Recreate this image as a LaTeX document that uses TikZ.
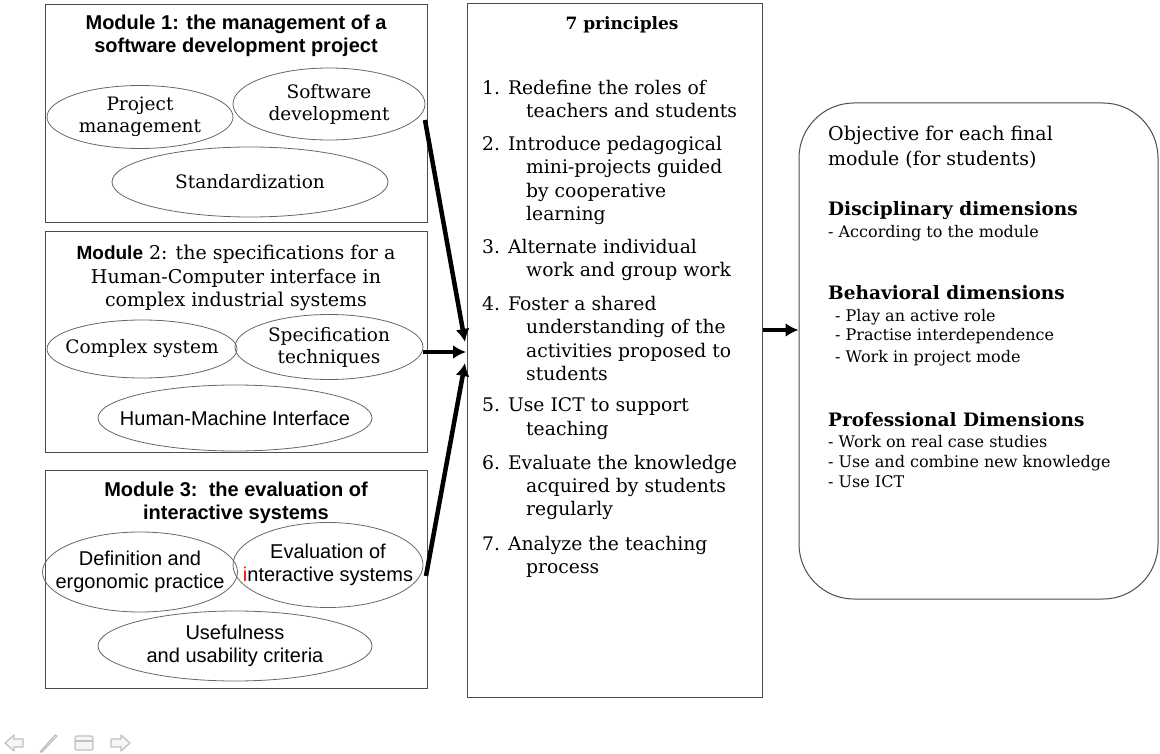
\documentclass[tikz,border=0pt]{standalone}
\usepackage{fontspec}
\setmainfont{DejaVu Serif}
\setsansfont{Liberation Sans}
\usetikzlibrary{shapes.geometric,arrows.meta}
\newcommand\myfs[2]{\fontsize{#1}{#2}\selectfont}
\begin{document}
\begin{tikzpicture}[x=1pt,y=-1pt,
  modbox/.style={draw=black!70, line width=1pt, inner sep=0pt},
  ell/.style={ellipse, draw=black!60, line width=0.8pt, inner sep=0pt},
  etxt/.style={inner sep=0pt, align=center, font=\myfs{18.5}{22}},
  etxts/.style={inner sep=0pt, align=center, font=\sffamily\myfs{20}{23}},
  mtitle/.style={align=center, font=\sffamily\bfseries\myfs{20}{23}, inner sep=0pt},
  arr/.style={line width=4.5pt, -{Latex[length=13pt,width=14pt]}},
  pline/.style={anchor=base west, inner sep=0pt, font=\myfs{18.75}{22}},
  oline/.style={anchor=base west, inner sep=0pt, font=\myfs{19}{24}},
  ohead/.style={anchor=base west, inner sep=0pt, font=\bfseries\myfs{18.5}{22}},
  oitem/.style={anchor=base west, inner sep=0pt, font=\myfs{16}{20}},
  nav/.style={draw=black!25, fill=black!4, line width=1.2pt, line join=round}
]
\useasboundingbox (0,0) rectangle (1160,754);

% Module boxes
\node[modbox, minimum width=382pt, minimum height=218pt] (m1) at (236,114) {};
\node[modbox, minimum width=382pt, minimum height=220pt] (m2) at (236,342) {};
\node[modbox, minimum width=382pt, minimum height=218pt] (m3) at (236,579) {};

% Module 1
\node[mtitle] (t1) at (236,36) {Module 1: the management of a\\software development project};
\node[ell, minimum width=186pt, minimum height=63pt] (pm) at (140,117) {};
\node[etxt] (pmt) at (pm.center) {Project\\management};
\node[ell, minimum width=192pt, minimum height=72pt] (sd) at (329,104) {};
\node[etxt] (sdt) at (sd.center) {Software\\development};
\node[ell, minimum width=276pt, minimum height=70pt] (st) at (250,182) {};
\node[etxt] (stt) at (st.center) {Standardization};

% Module 2
\node[align=center, inner sep=0pt, font=\myfs{19}{23.5}] (t2) at (236,278)
  {{\sffamily\bfseries Module} 2: the specifications for a\\Human-Computer interface in\\complex industrial systems};
\node[ell, minimum width=190pt, minimum height=58pt] (cs) at (142,349) {};
\node[etxt] (cst) at (cs.center) {Complex system};
\node[ell, minimum width=188pt, minimum height=65pt] (spt) at (329,347) {};
\node[etxt] (sptt) at (spt.center) {Specification\\techniques};
\node[ell, minimum width=274pt, minimum height=66pt] (hmi) at (235,418) {};
\node[etxts] (hmit) at (hmi.center) {Human-Machine Interface};

% Module 3
\node[mtitle] (t3) at (236,503) {Module 3:\ \ the evaluation of\\interactive systems};
\node[ell, minimum width=195pt, minimum height=80pt] (def) at (140,572) {};
\node[etxts] (deft) at (def.center) {Definition and\\ergonomic practice};
\node[ell, minimum width=190pt, minimum height=85pt] (eva) at (328,565) {};
\node[etxts] (evat) at (eva.center) {Evaluation of\\{\color{red}i}nteractive systems};
\node[ell, minimum width=274pt, minimum height=70pt] (use) at (235,646) {};
\node[etxts] (uset) at (use.center) {Usefulness\\and usability criteria};

% 7 principles
\node[modbox, minimum width=295pt, minimum height=693pt] (pr) at (614.5,350.5) {};
\node[inner sep=0pt, font=\bfseries\myfs{17}{20}] (prt) at (622,25) {7 principles};
\foreach \x/\y/\t [count=\i] in {
  482/90/{1. Redefine the roles of},
  526/113/{teachers and students},
  482/146/{2. Introduce pedagogical},
  526/169/{mini-projects guided},
  526/193/{by cooperative},
  526/216/{learning},
  482/249/{3. Alternate individual},
  526/272/{work and group work},
  482/305/{4. Foster a shared},
  526/328/{understanding of the},
  526/352/{activities proposed to},
  526/375/{students},
  482/406/{5. Use ICT to support},
  526/430/{teaching},
  482/464/{6. Evaluate the knowledge},
  526/487/{acquired by students},
  526/510/{regularly},
  482/545/{7. Analyze the teaching},
  526/568/{process}}
  \node[pline] (pl\i) at (\x,{\y+5}) {\t};

% Objective box
\node[draw=black!70, line width=1pt, rounded corners=55pt, minimum width=359pt, minimum height=496pt, inner sep=0pt] (obj) at (978.5,351) {};
\node[oline] (o1) at (828,141) {Objective for each final};
\node[oline] (o2) at (828,166) {module (for students)};
\node[ohead] (o3) at (828,216) {Disciplinary dimensions};
\node[oitem] (o4) at (828,238) {- According to the module};
\node[ohead] (o5) at (828,300) {Behavioral dimensions};
\node[oitem] (o6) at (835,321) {- Play an active role};
\node[oitem] (o7) at (835,341) {- Practise interdependence};
\node[oitem] (o8) at (835,362) {- Work in project mode};
\node[ohead] (o9) at (828,426) {Professional Dimensions};
\node[oitem] (o10) at (828,447) {- Work on real case studies};
\node[oitem] (o11) at (828,467) {- Use and combine new knowledge};
\node[oitem] (o12) at (828,487) {- Use ICT};

% Arrows
\coordinate (a1) at (425,120);
\coordinate (e1) at (465,342);
\coordinate (e2) at (466,352);
\coordinate (a3) at (426,576);
\coordinate (e3) at (465,363);
\coordinate (ar) at (0,330);
\draw[arr] (a1) -- (e1);
\draw[arr] (spt.east |- e2) -- (e2);
\draw[arr] (a3) -- (e3);
\draw[arr] (pr.east |- ar) -- (obj.west |- ar);

% navigation symbols
\draw[nav] (5,743) -- (14,735) -- (14,739) -- (23,739) -- (23,747) -- (14,747) -- (14,751) -- cycle;
\draw[nav] (40,752) -- (55,735) -- (57,736) -- (42,752) -- cycle;
\draw[nav, rounded corners=1.5pt] (75,736) rectangle (93,750);
\draw[nav] (75,741) -- (93,741);
\draw[nav] (130,743) -- (121,735) -- (121,739) -- (111,739) -- (111,747) -- (121,747) -- (121,751) -- cycle;
\end{tikzpicture}
\end{document}
